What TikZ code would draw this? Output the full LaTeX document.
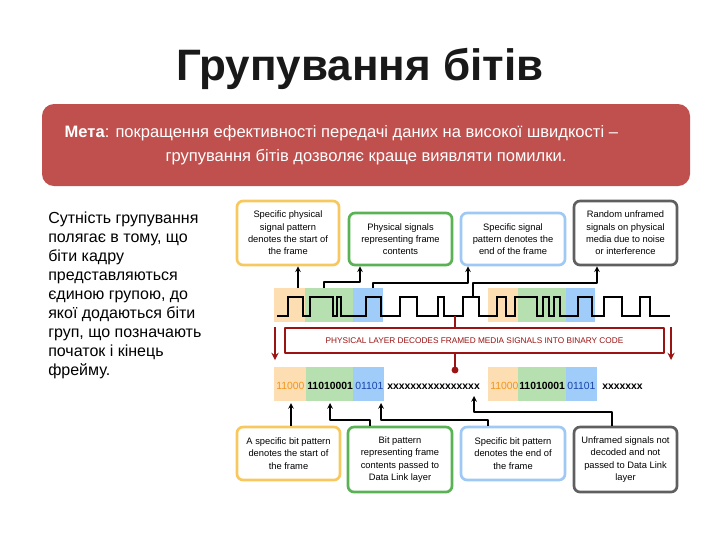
\documentclass[tikz,border=0pt]{standalone}
\usepackage{fontspec}
\setmainfont{Liberation Sans}
\usetikzlibrary{calc}
\definecolor{titlec}{RGB}{25,25,25}
\definecolor{goalred}{RGB}{192,80,77}
\definecolor{darkred}{RGB}{155,20,20}
\definecolor{startc}{RGB}{247,200,95}
\definecolor{bodyc}{RGB}{90,178,85}
\definecolor{endc}{RGB}{160,200,245}
\definecolor{noisec}{RGB}{95,95,95}
\definecolor{startbg}{RGB}{253,221,178}
\definecolor{bodybg}{RGB}{183,224,176}
\definecolor{endbg}{RGB}{160,204,250}
\definecolor{startbit}{RGB}{240,150,30}
\definecolor{endbit}{RGB}{25,70,170}
\tikzset{
  note/.style={draw, line width=2pt, rounded corners=4.5pt, align=center, inner sep=1pt,
    font=\fontsize{7}{9.2}\selectfont},
  goal/.style={fill=goalred, rounded corners=9pt, text=white, align=center,
    minimum width=486pt, minimum height=61.5pt, font=\fontsize{12.4}{18}\selectfont},
  wave/.style={line width=1.7pt, line join=miter},
  link/.style={->, line width=0.9pt},
  decline/.style={darkred, line width=1.7pt},
  decarrow/.style={->, darkred, line width=1.4pt},
  decode/.style={draw=darkred, fill=white, line width=1.1pt, text=darkred,
    minimum width=284pt, minimum height=18.75pt, inner sep=0pt, font=\fontsize{6.2}{7}\selectfont},
  bits/.style={inner sep=0pt, font=\fontsize{7.8}{9}\selectfont},
  boldbits/.style={bits, font=\fontsize{7.8}{9}\selectfont\bfseries}
}
\begin{document}
\begin{tikzpicture}[x=0.75pt, y=-0.75pt, line join=round, >=stealth]
\useasboundingbox (0,0) rectangle (720,540);
% heading
\node[anchor=base, text=titlec, font=\fontsize{33}{36}\selectfont\bfseries] (title) at (360,80) {Групування бітів};
\node[goal] (goal) at (366,145) {\textbf{Мета}: покращення ефективності передачі даних на високої швидкості –\hspace*{37pt}\\групування бітів дозволяє краще виявляти помилки.};
\node[anchor=north west, align=left, inner sep=0pt, font=\fontsize{12}{14.2}\selectfont] (essence) at (48,212)
  {Сутність групування\\полягає в тому, що\\біти кадру\\представляються\\єдиною групою, до\\якої додаються біти\\груп, що позначають\\початок і кінець\\фрейму.};

% signal on the medium
\fill[startbg] (274,288) rectangle (305,322);
\fill[bodybg] (305,288) rectangle (353,322);
\fill[endbg] (353,288) rectangle (383,322);
\fill[startbg] (488,288) rectangle (518,322);
\fill[bodybg] (518,288) rectangle (566,322);
\fill[endbg] (566,288) rectangle (595,322);
\draw[wave] (277,316) \foreach \up/\dn in {288/303, 310/333, 337/341, 366/381, 400/417, 438/444, 463/479,
    497/506, 515/537, 543/549, 554/560, 578/592, 604/622, 640/650}
  { -- (\up,316) -- (\up,297) -- (\dn,297) -- (\dn,316) } -- (670,316);

% top notes
\node[note, draw=startc, minimum width=76.5pt, minimum height=48pt] (sigstart) at (288,233) {Specific physical\\signal pattern\\denotes the start of\\the frame};
\node[note, draw=bodyc, minimum width=77.25pt, minimum height=39pt] (sigbody) at (400.5,239) {Physical signals\\representing frame\\contents};
\node[note, draw=endc, minimum width=78pt, minimum height=39pt] (sigend) at (513,239) {Specific signal\\pattern denotes the\\end of the frame};
\node[note, draw=noisec, minimum width=77.25pt, minimum height=48pt] (signoise) at (625.5,233) {Random unframed\\signals on physical\\media due to noise\\or interference};

\coordinate (wA) at (298,288);
\coordinate (wB) at (324,288);
\coordinate (kB) at (360,282);
\coordinate (wC) at (373,288);
\coordinate (kC) at (468,283);
\coordinate (wD) at (473,297);
\coordinate (kD) at (597,283);
\draw[link] (wA) -- (wA |- sigstart.south);
\draw[link] (wB) |- (kB) -- (kB |- sigbody.south);
\draw[link] (wC) |- (kC) -- (kC |- sigend.south);
\draw[link] (wD) |- (kD) -- (kD |- signoise.south);

% decoding
\coordinate (wv) at (455,316);
\coordinate (wdot) at (455,370);
\draw[decline] (wv) -- (wdot);
\fill[darkred] (wdot) circle (2.6pt);
\node[decode] (decode) at (474.5,340.5) {PHYSICAL LAYER DECODES FRAMED MEDIA SIGNALS INTO BINARY CODE};
\coordinate (dl1) at (275,327);
\coordinate (dl2) at (275,360);
\coordinate (dr1) at (671,327);
\coordinate (dr2) at (671,360);
\draw[decarrow] (dl1) -- (dl2);
\draw[decarrow] (dr1) -- (dr2);

% bits
\fill[startbg] (274,367) rectangle (306,401);
\fill[bodybg] (306,367) rectangle (353,401);
\fill[endbg] (353,367) rectangle (384,401);
\fill[startbg] (488,367) rectangle (518,401);
\fill[bodybg] (518,367) rectangle (566,401);
\fill[endbg] (566,367) rectangle (597,401);
\node[bits, anchor=base west, text=startbit] (sbA) at (276,389) {11000};
\node[boldbits, anchor=base west] (bbA) at (307,389) {11010001};
\node[bits, anchor=base west, text=endbit] (ebA) at (355,389) {01101};
\node[boldbits, anchor=base west] (xA) at (387,389) {xxxxxxxxxxxxxxxx};
\node[bits, anchor=base west, text=startbit] (sbB) at (490,389) {11000};
\node[boldbits, anchor=base west] (bbB) at (519,389) {11010001};
\node[bits, anchor=base west, text=endbit] (ebB) at (567,389) {01101};
\node[boldbits, anchor=base west] (xB) at (602,389) {xxxxxxx};

% bottom notes
\node[note, draw=startc, minimum width=77.25pt, minimum height=39.75pt] (bitstart) at (288.5,453.5) {A specific bit pattern\\denotes the start of\\the frame};
\node[note, draw=bodyc, minimum width=78pt, minimum height=48.75pt] (bitbody) at (400,459.5) {Bit pattern\\representing frame\\contents passed to\\Data Link layer};
\node[note, draw=endc, minimum width=78pt, minimum height=39.75pt] (bitend) at (513,453.5) {Specific bit pattern\\denotes the end of\\the frame};
\node[note, draw=noisec, minimum width=77.25pt, minimum height=48.75pt] (bitnoise) at (625.5,459.5) {Unframed signals not\\decoded and not\\passed to Data Link\\layer};

\coordinate (eA) at (291,403);
\coordinate (eB) at (330,403);
\coordinate (kBb) at (370,420);
\coordinate (eC) at (381,403);
\coordinate (kCb) at (488,420);
\coordinate (eD) at (474,396);
\coordinate (kDb) at (612,412);
\draw[link] (eA |- bitstart.north) -- (eA);
\draw[link] (kBb |- bitbody.north) -- (kBb) -| (eB);
\draw[link] (kCb |- bitend.north) -- (kCb) -| (eC);
\draw[link] (kDb |- bitnoise.north) -- (kDb) -| (eD);
\end{tikzpicture}
\end{document}
